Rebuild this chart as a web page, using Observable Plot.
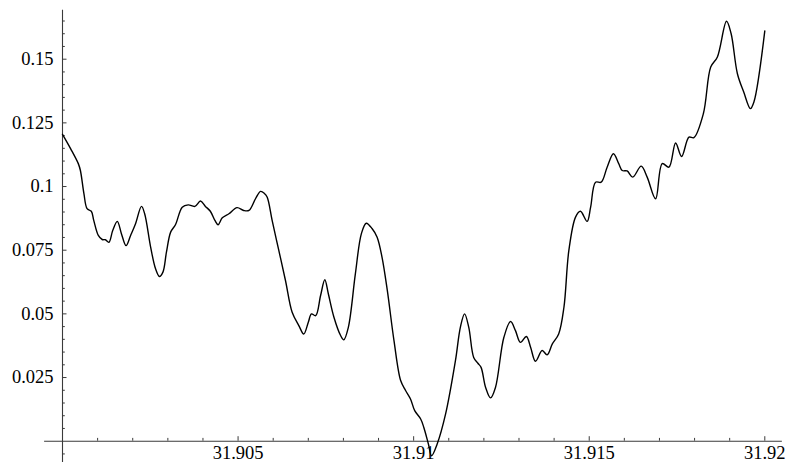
<!DOCTYPE html>
<html>
<head>
<meta charset="utf-8">
<script src="https://cdn.jsdelivr.net/npm/d3@7"></script>
<script src="https://cdn.jsdelivr.net/npm/@observablehq/plot@0.6"></script>
<style>
  html, body { margin: 0; padding: 0; background: #fff; }
  #chart svg { display: block; }
  #chart svg text { font-family: "Liberation Serif", "DejaVu Serif", serif !important; }
</style>
</head>
<body>
<div id="chart"></div>
<script>
// Curve samples (x, y)
const xs = [31.9, 31.90023, 31.90045, 31.90051, 31.90061, 31.90070, 31.90082, 31.90089, 31.90102, 31.90113,
  31.90122, 31.90132, 31.90143, 31.90156, 31.90168, 31.90181, 31.90194, 31.90208, 31.90225, 31.90234,
  31.90251, 31.90265, 31.90276, 31.90286, 31.90296, 31.90308, 31.90322, 31.90341, 31.90358, 31.90377,
  31.90393, 31.90407, 31.90421, 31.90434, 31.90443, 31.90455, 31.90474, 31.90497, 31.90516, 31.90531,
  31.90550, 31.90564, 31.90575, 31.90583, 31.90597, 31.90616, 31.90635, 31.90654, 31.90673, 31.90687,
  31.90700, 31.90709, 31.90721, 31.90735, 31.90747, 31.90757, 31.90773, 31.90792, 31.90801, 31.90814,
  31.90834, 31.90851, 31.90865, 31.90882, 31.90896, 31.90910, 31.90925, 31.90944, 31.90963, 31.90977,
  31.90991, 31.91003, 31.91020, 31.91029, 31.91042, 31.91051, 31.91067, 31.91091, 31.91119, 31.91133,
  31.91145, 31.91157, 31.91171, 31.91183, 31.91192, 31.91205, 31.91219, 31.91233, 31.91257, 31.91276,
  31.91290, 31.91304, 31.91321, 31.91333, 31.91347, 31.91366, 31.91380, 31.91395, 31.91413, 31.91428,
  31.91442, 31.91461, 31.91475, 31.91494, 31.91504, 31.91518, 31.91534, 31.91551, 31.91569, 31.91584,
  31.91594, 31.91608, 31.91624, 31.91648, 31.91665, 31.91689, 31.91708, 31.91727, 31.91746, 31.91763,
  31.91784, 31.91798, 31.91825, 31.91846, 31.91865, 31.91891, 31.91904, 31.91922, 31.91940, 31.91959,
  31.91969, 31.92];
const ys = [0.1205, 0.1149, 0.1090, 0.1063, 0.0972, 0.0913, 0.0903, 0.0867, 0.0808, 0.0792,
  0.0791, 0.0781, 0.0827, 0.0863, 0.0814, 0.0768, 0.0808, 0.0854, 0.0922, 0.0893,
  0.0762, 0.0677, 0.0647, 0.0664, 0.0742, 0.0821, 0.0851, 0.0919, 0.0928, 0.0922,
  0.0943, 0.0922, 0.0903, 0.0867, 0.0850, 0.0877, 0.0893, 0.0917, 0.0906, 0.0906,
  0.0953, 0.0981, 0.0973, 0.0958, 0.0867, 0.0749, 0.0631, 0.0506, 0.0454, 0.0421,
  0.0467, 0.0500, 0.0493, 0.0572, 0.0634, 0.0579, 0.0487, 0.0415, 0.0398, 0.0447,
  0.0657, 0.0814, 0.0856, 0.0834, 0.0801, 0.0722, 0.0592, 0.0395, 0.0238, 0.0199,
  0.0166, 0.0120, 0.0087, 0.0054, -0.0011, -0.0057, -0.0011, 0.0107, 0.0316, 0.0447,
  0.0500, 0.0447, 0.0329, 0.0306, 0.0290, 0.0211, 0.0170, 0.0211, 0.0408, 0.0470,
  0.0434, 0.0388, 0.0411, 0.0369, 0.0314, 0.0356, 0.0339, 0.0382, 0.0421, 0.0526,
  0.0749, 0.0880, 0.0903, 0.0863, 0.0919, 0.1017, 0.1017, 0.1076, 0.1129, 0.1090,
  0.1063, 0.1061, 0.1037, 0.1080, 0.1037, 0.0952, 0.1090, 0.1076, 0.1171, 0.1118,
  0.1194, 0.1192, 0.1286, 0.1469, 0.1509, 0.1649, 0.1601, 0.1443, 0.1371, 0.1306,
  0.1332, 0.1611];

// Ticks and labels
const xMajor = [31.905, 31.91, 31.915, 31.92];
const xLabels = ["31.905", "31.91", "31.915", "31.92"];
const xMinor = [31.901, 31.902, 31.903, 31.904, 31.906, 31.907, 31.908, 31.909,
  31.911, 31.912, 31.913, 31.914, 31.916, 31.917, 31.918, 31.919];
const yMajor = [0.025, 0.05, 0.075, 0.1, 0.125, 0.15];
const yLabels = ["0.025", "0.05", "0.075", "0.1", "0.125", "0.15"];
const yMinor = [-0.005, 0.005, 0.01, 0.015, 0.02, 0.03, 0.035, 0.04, 0.045, 0.055, 0.06, 0.065, 0.07,
  0.08, 0.085, 0.09, 0.095, 0.105, 0.11, 0.115, 0.12, 0.13, 0.135, 0.14, 0.145, 0.155, 0.16, 0.165];
const xOrigin = 31.9;
const xAxisExtent = [31.89949, 31.9205];
const yAxisExtent = [-0.0087, 0.1692];

const data = xs.map((x, i) => ({x, y: ys[i]}));
const axisColor = "#3a3a3a";
const font = "Liberation Serif";

const chart = Plot.plot({
  width: 787,
  height: 462,
  margin: 0,
  style: {fontFamily: font, fontSize: "18.5px", background: "white"},
  x: {domain: [31.9, 31.92], range: [62, 764.3], axis: null},
  y: {domain: [0, 0.15], range: [440.7, 58.7], axis: null},
  marks: [
    // axes lines
    Plot.ruleY([0], {y: () => 0, x1: () => xAxisExtent[0], x2: () => xAxisExtent[1], stroke: axisColor, strokeWidth: 1.1}),
    Plot.ruleX([xOrigin], {x: d => d, y1: () => yAxisExtent[0], y2: () => yAxisExtent[1], stroke: axisColor, strokeWidth: 1.1}),
    // x ticks
    Plot.ruleX(xMajor, {x: d => d, y1: () => 0, y2: () => 0, insetTop: -4.5, stroke: axisColor, strokeWidth: 1}),
    Plot.ruleX(xMinor, {x: d => d, y1: () => 0, y2: () => 0, insetTop: -2.8, stroke: axisColor, strokeWidth: 1}),
    // y ticks
    Plot.ruleY(yMajor, {y: d => d, x1: () => xOrigin, x2: () => xOrigin, insetRight: -4.5, stroke: axisColor, strokeWidth: 1}),
    Plot.ruleY(yMinor, {y: d => d, x1: () => xOrigin, x2: () => xOrigin, insetRight: -2.8, stroke: axisColor, strokeWidth: 1}),
    // labels
    Plot.text(xMajor, {x: d => d, y: () => 0, text: (d, i) => xLabels[i], dy: 12, textAnchor: "middle", fill: "black", fontFamily: font, fontSize: 18.5}),
    Plot.text(yMajor, {y: d => d, x: () => xOrigin, text: (d, i) => yLabels[i], dx: -9, textAnchor: "end", fill: "black", fontFamily: font, fontSize: 18.5}),
    // curve
    Plot.line(data, {x: "x", y: "y", curve: "catmull-rom", stroke: "black", strokeWidth: 1.4})
  ]
});
document.getElementById("chart").appendChild(chart);
</script>
</body>
</html>
